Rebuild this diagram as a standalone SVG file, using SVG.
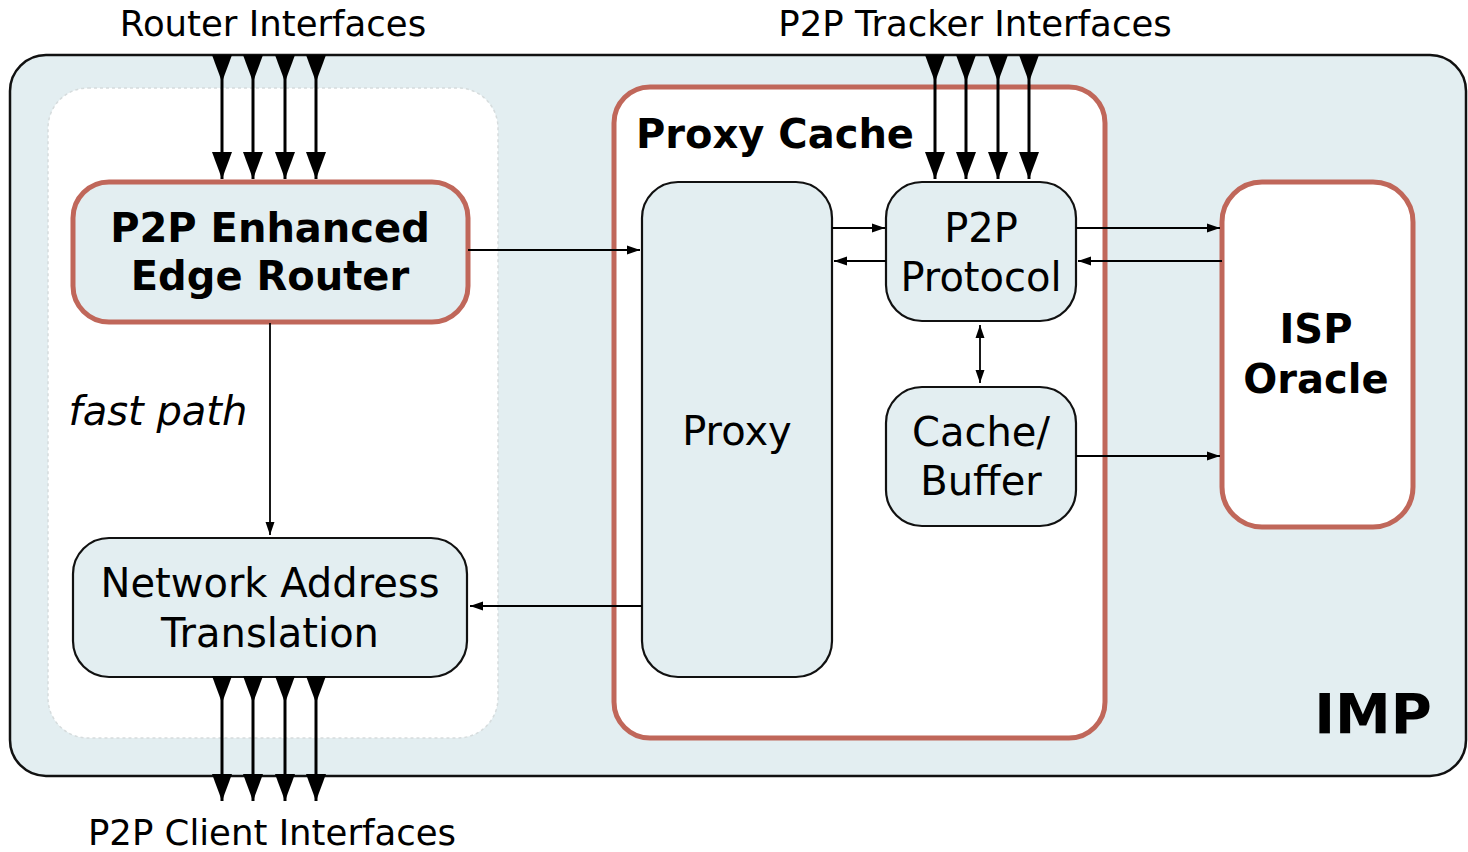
<svg xmlns="http://www.w3.org/2000/svg" width="1468" height="852" viewBox="0 0 1468 852">
  <style>
    .lbl { font-family: "DejaVu Sans", Verdana, sans-serif; fill: #000; text-anchor: middle; }
    .ext { font-size: 35.5px; }
    .node { font-size: 40px; }
    .bold { font-weight: bold; }
    .box { fill: #e3eef1; stroke: #111; stroke-width: 2.2; }
    .red { stroke: #c0675a; stroke-width: 5; }
    .thin { stroke: #000; stroke-width: 1.8; fill: none; }
    .bus { stroke: #000; stroke-width: 3; fill: none; marker-mid: url(#big); marker-end: url(#big); }
  </style>
  <defs>
    <marker id="big" viewBox="0 -10 27 20" refX="27" refY="0" markerWidth="27" markerHeight="20" markerUnits="userSpaceOnUse" orient="auto">
      <path d="M0,-10 L27,0 L0,10 Z" fill="#000"/>
    </marker>
    <marker id="sm" viewBox="0 -5 13 10" refX="13" refY="0" markerWidth="13" markerHeight="10" markerUnits="userSpaceOnUse" orient="auto">
      <path d="M0,-4.5 L13,0 L0,4.5 Z" fill="#000"/>
    </marker>
    <marker id="smStart" viewBox="0 -5 13 10" refX="13" refY="0" markerWidth="13" markerHeight="10" markerUnits="userSpaceOnUse" orient="auto-start-reverse">
      <path d="M0,-4.5 L13,0 L0,4.5 Z" fill="#000"/>
    </marker>
  </defs>

  <!-- interface labels -->
  <text class="lbl ext" x="273" y="36">Router Interfaces</text>
  <text class="lbl ext" x="975" y="36">P2P Tracker Interfaces</text>
  <text class="lbl ext" x="272" y="845">P2P Client Interfaces</text>

  <!-- IMP enclosure -->
  <g id="imp">
    <rect x="10" y="55" width="1456" height="721" rx="36" ry="36" fill="#e3eef1" stroke="#111" stroke-width="2.5"/>
    <text class="lbl bold" x="1373" y="733" font-size="56">IMP</text>
  </g>

  <!-- edge-router side panel -->
  <g id="router-panel">
    <rect x="48" y="88" width="450" height="650" rx="40" ry="40" fill="#fff" stroke="#d6dcdd" stroke-width="1.5" stroke-dasharray="3 3"/>
  </g>

  <!-- proxy cache container -->
  <g id="proxy-cache">
    <rect x="614" y="87" width="491" height="651" rx="36" ry="36" fill="#fff" class="red" stroke="#c0675a"/>
    <text class="lbl node bold" x="775" y="148">Proxy Cache</text>
  </g>

  <g id="edge-router">
    <rect x="73" y="182" width="395" height="140" rx="36" ry="36" class="box red"/>
    <text class="lbl node bold" x="270" y="242">P2P Enhanced</text>
    <text class="lbl node bold" x="270" y="290">Edge Router</text>
  </g>

  <g id="nat">
    <rect x="73" y="538" width="394" height="139" rx="36" ry="36" class="box"/>
    <text class="lbl node" x="270" y="597">Network Address</text>
    <text class="lbl node" x="270" y="647">Translation</text>
  </g>

  <g id="proxy">
    <rect x="642" y="182" width="190" height="495" rx="36" ry="36" class="box"/>
    <text class="lbl node" x="737" y="445">Proxy</text>
  </g>

  <g id="p2p-protocol">
    <rect x="886" y="182" width="190" height="139" rx="36" ry="36" class="box"/>
    <text class="lbl node" x="981" y="242">P2P</text>
    <text class="lbl node" x="981" y="291">Protocol</text>
  </g>

  <g id="cache-buffer">
    <rect x="886" y="387" width="190" height="139" rx="36" ry="36" class="box"/>
    <text class="lbl node" x="981" y="446">Cache/</text>
    <text class="lbl node" x="981" y="495">Buffer</text>
  </g>

  <g id="isp-oracle">
    <rect x="1222" y="182" width="191" height="345" rx="40" ry="40" fill="#fff" class="red" stroke="#c0675a"/>
    <text class="lbl node bold" x="1316" y="343">ISP</text>
    <text class="lbl node bold" x="1316" y="393">Oracle</text>
  </g>

  <!-- connectors -->
  <g id="connectors">
    <!-- router interfaces -->
    <path class="bus" d="M222,55 L222,82 L222,179"/>
    <path class="bus" d="M253,55 L253,82 L253,179"/>
    <path class="bus" d="M285,55 L285,82 L285,179"/>
    <path class="bus" d="M316,55 L316,82 L316,179"/>
    <!-- tracker interfaces -->
    <path class="bus" d="M935,55 L935,82 L935,179"/>
    <path class="bus" d="M966,55 L966,82 L966,179"/>
    <path class="bus" d="M998,55 L998,82 L998,179"/>
    <path class="bus" d="M1029,55 L1029,82 L1029,179"/>
    <!-- client interfaces -->
    <path class="bus" d="M222,677 L222,703 L222,801"/>
    <path class="bus" d="M253,677 L253,703 L253,801"/>
    <path class="bus" d="M285,677 L285,703 L285,801"/>
    <path class="bus" d="M316,677 L316,703 L316,801"/>

    <!-- fast path -->
    <path class="thin" d="M270,323 L270,535" marker-end="url(#sm)"/>
    <text class="lbl node" x="158" y="425" font-style="italic">fast path</text>

    <!-- router to proxy -->
    <path class="thin" d="M468,250 L640,250" marker-end="url(#sm)"/>
    <!-- proxy to NAT -->
    <path class="thin" d="M642,606 L470,606" marker-end="url(#sm)"/>
    <!-- proxy <-> protocol -->
    <path class="thin" d="M832,228 L885,228" marker-end="url(#sm)"/>
    <path class="thin" d="M886,261 L834,261" marker-end="url(#sm)"/>
    <!-- protocol <-> oracle -->
    <path class="thin" d="M1076,228 L1220,228" marker-end="url(#sm)"/>
    <path class="thin" d="M1222,261 L1078,261" marker-end="url(#sm)"/>
    <!-- cache to oracle -->
    <path class="thin" d="M1076,456 L1220,456" marker-end="url(#sm)"/>
    <!-- protocol <-> cache -->
    <path class="thin" d="M980,325 L980,383" marker-start="url(#smStart)" marker-end="url(#sm)"/>
  </g>
</svg>
